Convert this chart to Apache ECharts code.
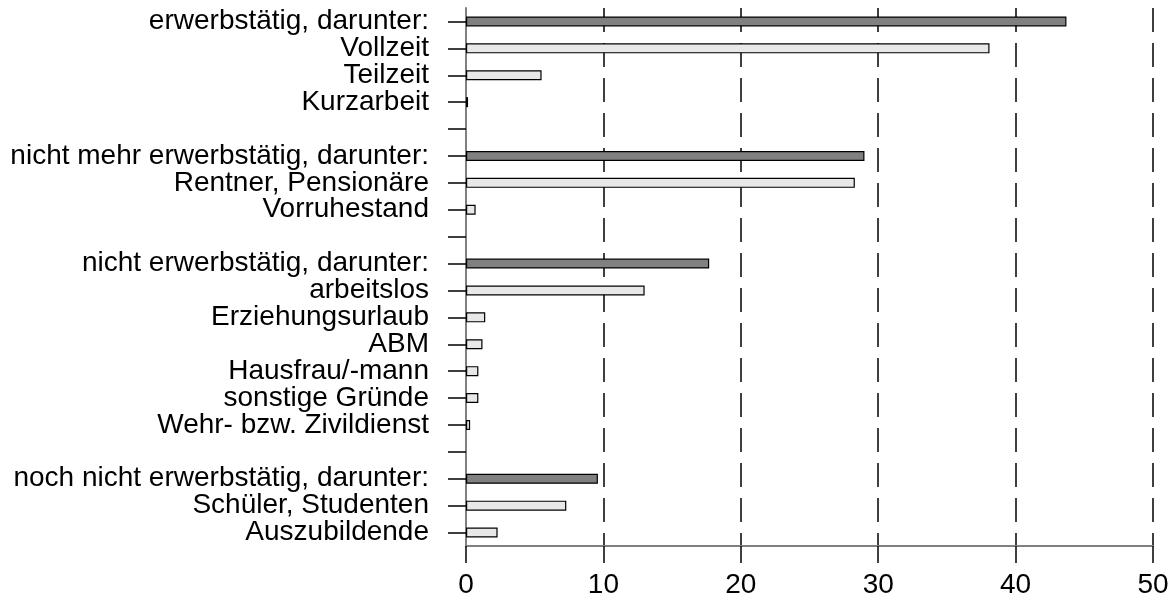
<!DOCTYPE html>
<html>
<head>
<meta charset="utf-8">
<script src="https://cdn.jsdelivr.net/npm/echarts@6/dist/echarts.min.js"></script>
<style>
  html, body { margin: 0; padding: 0; background: #fff; }
  #echarts { width: 1176px; height: 606px; }
</style>
</head>
<body>
<div id="echarts"></div>
<script>
// Kategorien von oben nach unten, Leerzeilen zwischen den Gruppen
var categories = [
    'erwerbstätig, darunter:', 'Vollzeit', 'Teilzeit', 'Kurzarbeit', ' ',
    'nicht mehr erwerbstätig, darunter:', 'Rentner, Pensionäre', 'Vorruhestand', '  ',
    'nicht erwerbstätig, darunter:', 'arbeitslos', 'Erziehungsurlaub', 'ABM',
    'Hausfrau/-mann', 'sonstige Gründe', 'Wehr- bzw. Zivildienst', '   ',
    'noch nicht erwerbstätig, darunter:', 'Schüler, Studenten', 'Auszubildende'
];
// Gruppensummen (dunkle Balken)
var totalValues = [
    43.7, '-', '-', '-', '-',
    29.0, '-', '-', '-',
    17.7, '-', '-', '-', '-', '-', '-', '-',
    9.6, '-', '-'
];
// Untergruppen (helle Balken)
var partValues = [
    '-', 38.1, 5.5, 0.15, '-',
    '-', 28.3, 0.7, '-',
    '-', 13.0, 1.4, 1.2, 0.9, 0.9, 0.3, '-',
    '-', 7.3, 2.3
];
var xTicks = [0, 10, 20, 30, 40, 50];

var myChart = echarts.init(document.getElementById('echarts'));
var font = 'Liberation Sans, Arial, sans-serif';
option = {
    animation: false,
    grid: {
        left: 466,
        right: 23,
        top: 8,
        bottom: 60
    },
    xAxis: {
        type: 'value',
        min: xTicks[0],
        max: xTicks[xTicks.length - 1],
        interval: 10,
        axisLine: { show: true, lineStyle: { color: '#808080', width: 2 } },
        axisTick: { show: true, length: 17, lineStyle: { color: '#000', width: 1.5 } },
        axisLabel: {
            margin: 25,
            color: '#000',
            fontFamily: font,
            fontSize: 28
        },
        splitLine: {
            show: true,
            lineStyle: { color: '#000', width: 1.5, type: [24, 11] }
        }
    },
    yAxis: {
        type: 'category',
        inverse: true,
        data: categories,
        axisLine: { show: true, lineStyle: { color: '#808080', width: 2 } },
        axisTick: { show: true, alignWithLabel: true, length: 18, lineStyle: { color: '#000', width: 1.5 } },
        axisLabel: {
            margin: 37,
            color: '#000',
            fontFamily: font,
            fontSize: 28,
            interval: 0
        }
    },
    series: [
        {
            name: 'gesamt',
            type: 'bar',
            data: totalValues,
            barWidth: 10,
            barGap: '-100%',
            itemStyle: { color: '#808080', borderColor: '#000', borderWidth: 1.2 }
        },
        {
            name: 'darunter',
            type: 'bar',
            data: partValues,
            barWidth: 10,
            itemStyle: { color: '#e8e8e8', borderColor: '#000', borderWidth: 1.2 }
        }
    ]
};
myChart.setOption(option);
</script>
</body>
</html>
